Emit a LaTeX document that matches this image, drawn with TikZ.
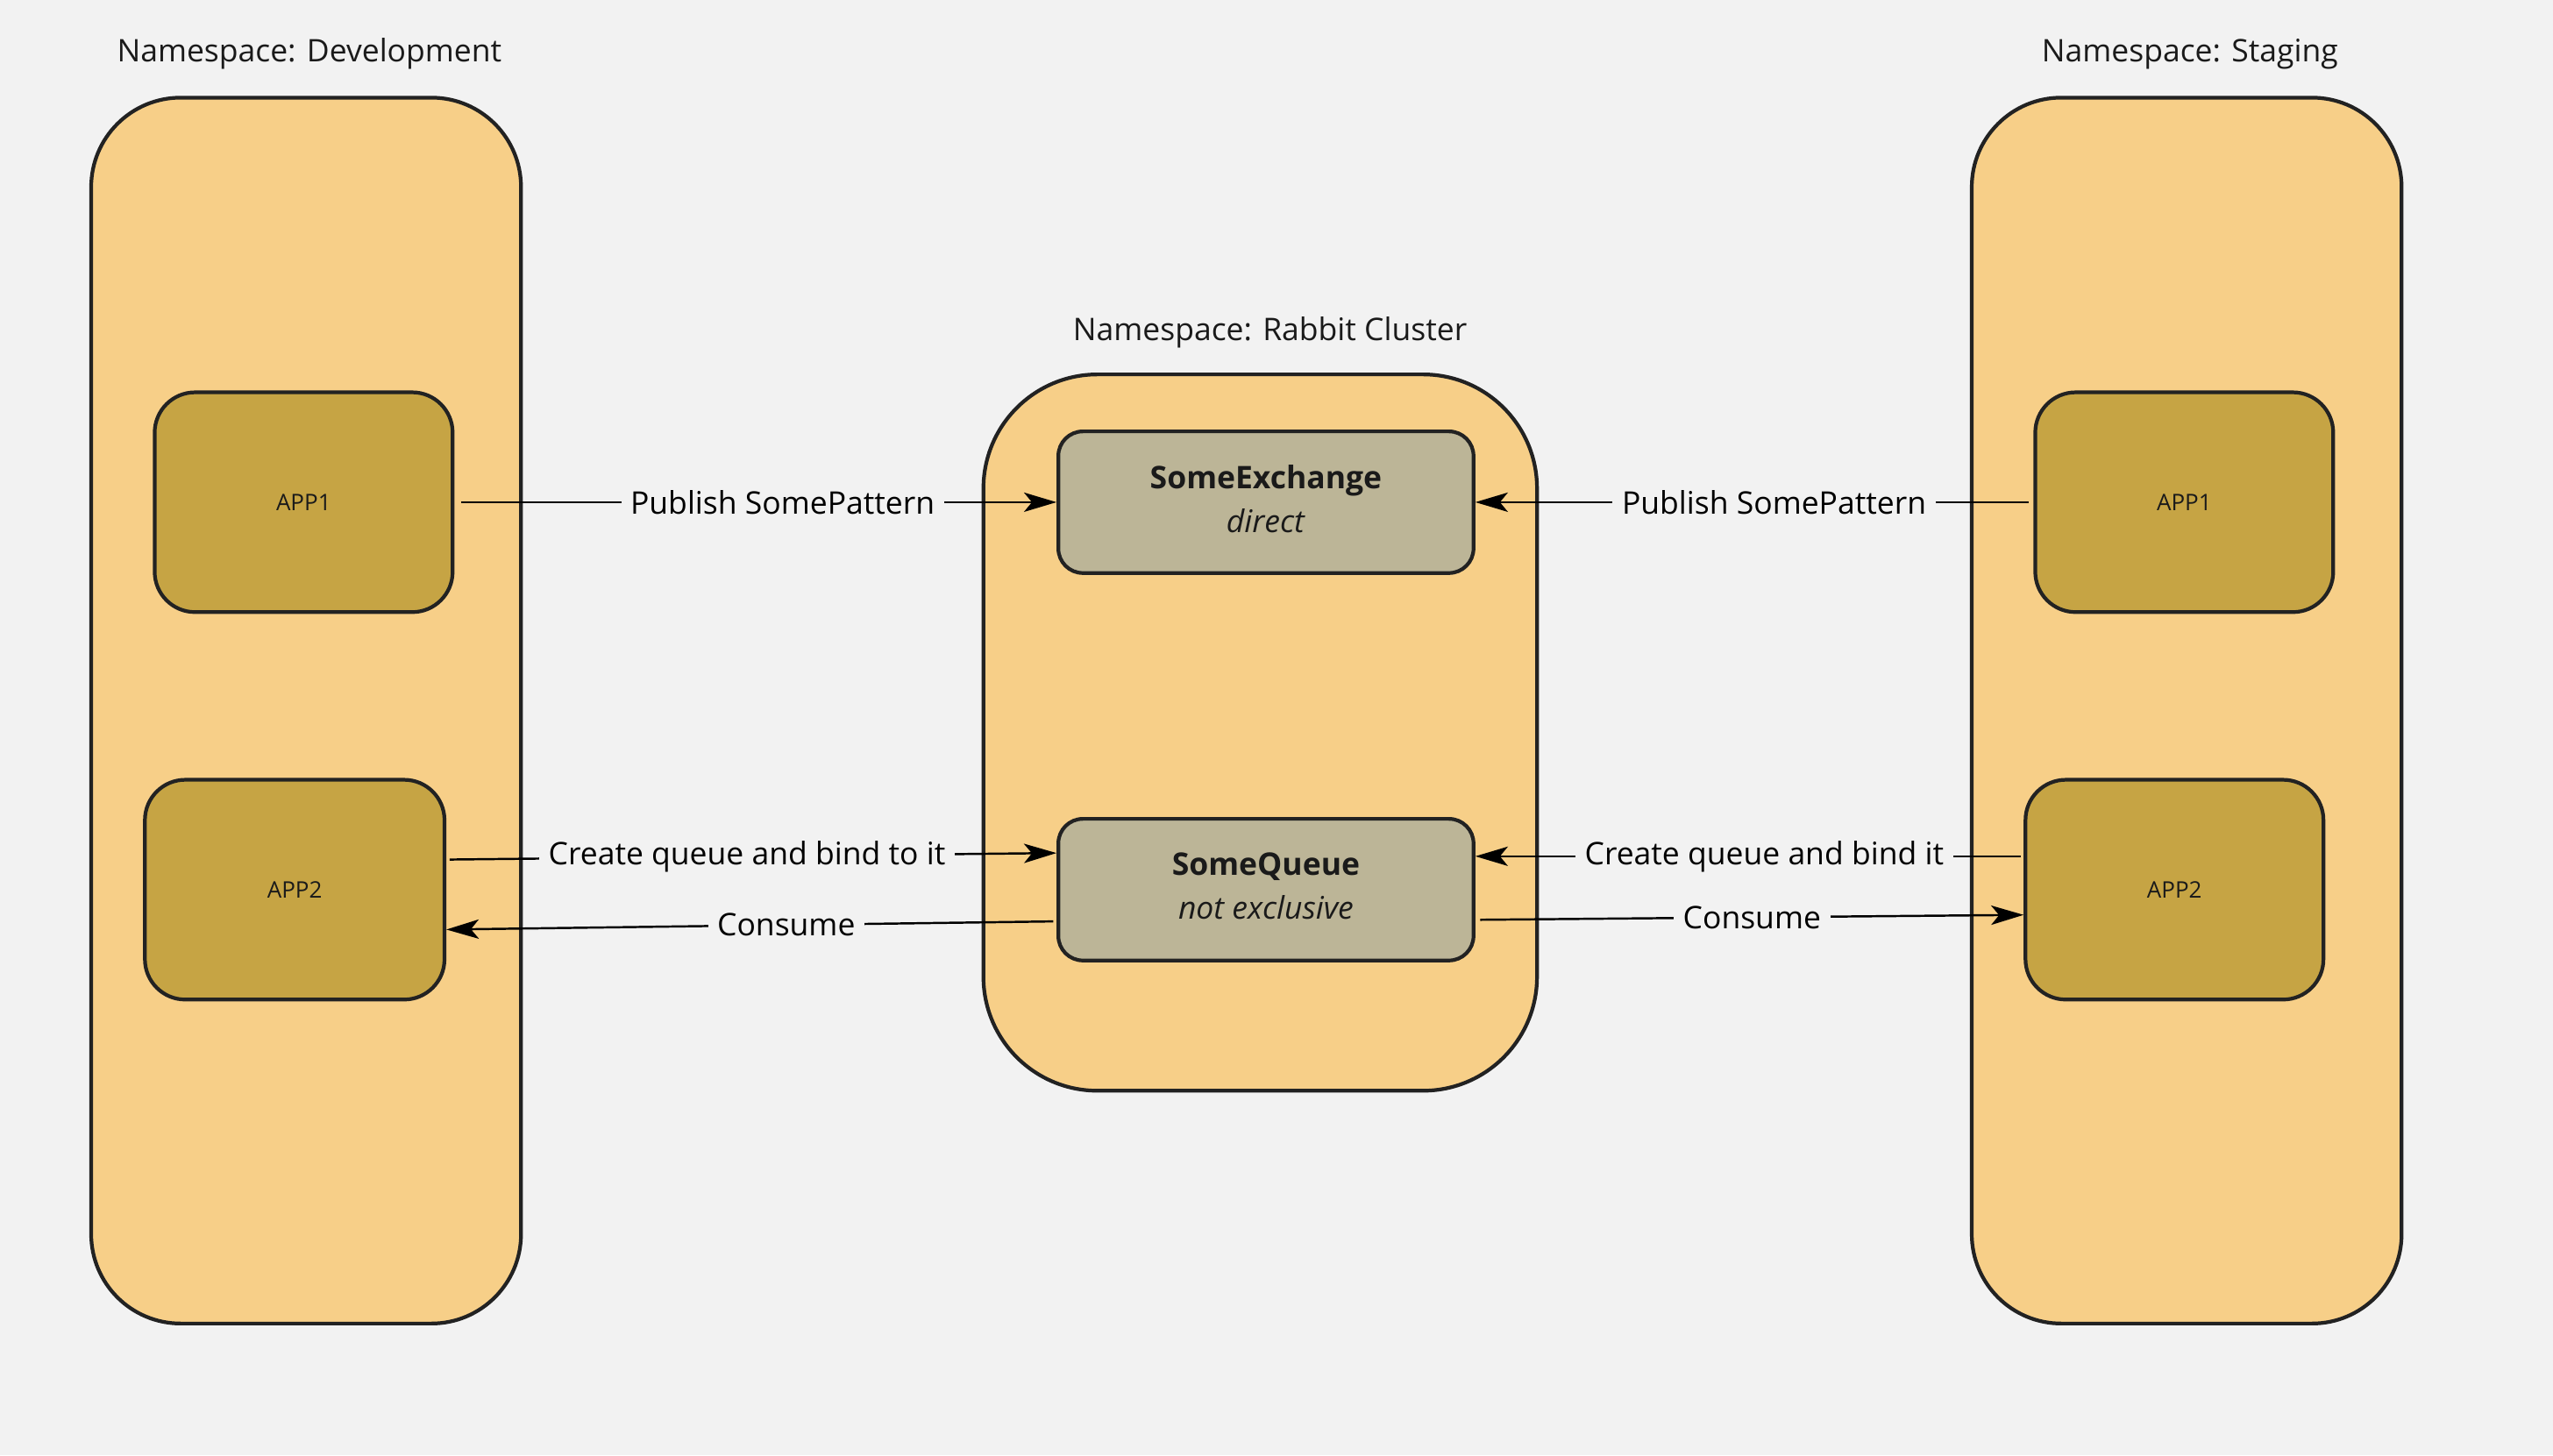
\documentclass[tikz,border=0pt]{standalone}
\usepackage{fontspec}
\setmainfont{Open Sans}
\usetikzlibrary{fit,calc,arrows.meta}
\definecolor{bg}{HTML}{F2F2F2}
\definecolor{contfill}{HTML}{F7CF88}
\definecolor{appfill}{HTML}{C6A444}
\definecolor{exfill}{HTML}{BCB597}
\definecolor{edge}{HTML}{222222}
\definecolor{ink}{HTML}{1A1A1A}
\tikzset{
  container/.style={draw=edge, fill=contfill, line width=1.2pt, inner sep=0pt, rounded corners=#1},
  appbox/.style={draw=edge, fill=appfill, line width=1.2pt, inner sep=0pt, rounded corners=0.46cm,
     font=\fontsize{7.4}{9}\selectfont, text=ink},
  exbox/.style={draw=edge, fill=exfill, line width=1.2pt, inner sep=0pt, rounded corners=0.28cm,
     font=\fontsize{10.1}{14.2}\selectfont, text=ink, align=center},
  title/.style={font=\fontsize{10.1}{12}\selectfont, text=ink, inner sep=0pt},
  lbl/.style={font=\fontsize{10.1}{12}\selectfont, text=black, fill=bg, inner sep=3pt},
  conn/.style={draw=black, line width=0.7pt, -{Stealth[length=0.37cm,width=0.22cm,inset=0.09cm]}},
}
\begin{document}
\begin{tikzpicture}[x=0.01857cm, y=-0.01857cm]
\fill[bg] (0,0) rectangle (1568,894);
\useasboundingbox (0,0) rectangle (1568,894);

% containers
\node[container=1.02cm, fit={(56,60) (320,813)}] (dev) {};
\node[container=1.3cm, fit={(604,230) (944,670)}] (rabbit) {};
\node[container=1.02cm, fit={(1211,60) (1475,813)}] (stg) {};

\node[title] (devtitle) at (190,33) {Namespace: Development};
\node[title] (rabbittitle) at (780,204) {Namespace: Rabbit Cluster};
\node[title] (stgtitle) at (1345,33) {Namespace: Staging};

% apps
\node[appbox, fit={(95,241) (278,376)}] (devapp1) {};
\node[font=\fontsize{7.4}{9}\selectfont, text=ink] (devapp1lbl) at (devapp1.center) {APP1};
\node[appbox, fit={(89,479) (273,614)}] (devapp2) {};
\node[font=\fontsize{7.4}{9}\selectfont, text=ink] (devapp2lbl) at (devapp2.center) {APP2};
\node[appbox, fit={(1250,241) (1433,376)}] (stapp1) {};
\node[font=\fontsize{7.4}{9}\selectfont, text=ink] (stapp1lbl) at (stapp1.center) {APP1};
\node[appbox, fit={(1244,479) (1427,614)}] (stapp2) {};
\node[font=\fontsize{7.4}{9}\selectfont, text=ink] (stapp2lbl) at (stapp2.center) {APP2};

% exchange / queue
\node[exbox, fit={(650,265) (905,352)}] (exch) {};
\node[exbox, draw=none, fill=none] (exchlbl) at ($(exch.center)+(0,-2)$) {\textbf{SomeExchange}\\\textit{direct}};
\node[exbox, fit={(650,503) (905,590)}] (queue) {};
\node[exbox, draw=none, fill=none] (queuelbl) at ($(queue.center)+(0,-2)$) {\textbf{SomeQueue}\\\textit{not exclusive}};

% connectors
\draw[conn] ($(devapp1.east)+(4,0)$) -- node[lbl,pos=0.54]{Publish SomePattern} (exch.west);
\draw[conn] ($(stapp1.west)+(-3,0)$) -- node[lbl,pos=0.46]{Publish SomePattern} (exch.east);
\draw[conn] ($(devapp2.east)+(2,-18.5)$) -- node[lbl,pos=0.49]{Create queue and bind to it} ($(queue.west)+(0,-22.5)$);
\draw[conn] ($(queue.west)+(-2,19.5)$) -- node[lbl,pos=0.44]{Consume} ($(devapp2.east)+(0,24.5)$);
\draw[conn] ($(stapp2.west)+(-2,-20.5)$) -- node[lbl,pos=0.47]{Create queue and bind it} ($(queue.east)+(0,-20.5)$);
\draw[conn] ($(queue.east)+(3,18.5)$) -- node[lbl,pos=0.50]{Consume} ($(stapp2.west)+(0,15.5)$);
\end{tikzpicture}
\end{document}
